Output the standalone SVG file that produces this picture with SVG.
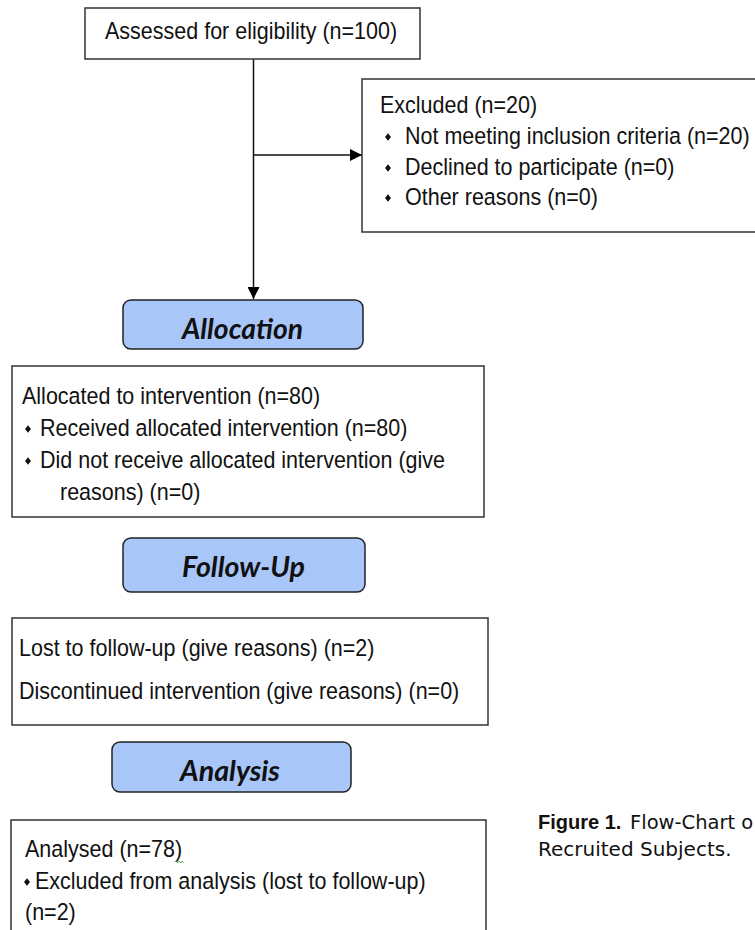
<svg xmlns="http://www.w3.org/2000/svg" xmlns:xlink="http://www.w3.org/1999/xlink" width="755" height="930" viewBox="0 0 755 930">
<style>
.box{fill:#fff;stroke:#333;stroke-width:1.5}
.hd{fill:#a9c6f9;stroke:#222;stroke-width:1.5}
.t{font-family:"Liberation Sans",Arial,sans-serif;font-size:21.5px;fill:#111}
.h{font-family:Lato,"Open Sans",sans-serif;font-weight:bold;font-style:italic;font-size:26px;fill:#111}
.cap{font-family:"DejaVu Sans",sans-serif;font-size:20px;fill:#111}
.capb{font-family:"Liberation Sans",Arial,sans-serif;font-weight:bold;font-size:20px;fill:#111}
.ln{stroke:#111;stroke-width:1.5;fill:none}
</style>
<defs>
<marker id="ah" markerUnits="userSpaceOnUse" markerWidth="12" markerHeight="12" refX="12" refY="6" orient="auto">
<path d="M0,0 L12,6 L0,12 Z" fill="#000"/>
</marker>
<path id="bul" d="M0,-3.8 L3,0 L0,3.8 L-3,0 Z" fill="#111"/>
</defs>
<rect width="755" height="930" fill="#fff"/>

<g id="connectors">
<line class="ln" x1="253.5" y1="59" x2="253.5" y2="299" marker-end="url(#ah)"/>
<line class="ln" x1="253.5" y1="155" x2="362" y2="155" marker-end="url(#ah)"/>
</g>

<g id="assessed">
<rect class="box" x="85" y="8" width="335" height="51"/>
<text class="t" transform="translate(105 39) scale(1 1.1)">Assessed for eligibility (n=100)</text>
</g>

<g id="excluded">
<rect class="box" x="362" y="79" width="400" height="153"/>
<text class="t" transform="translate(380 113) scale(1 1.1)">Excluded (n=20)</text>
<use xlink:href="#bul" x="388" y="137"/>
<text class="t" transform="translate(405 144) scale(1 1.1)">Not meeting inclusion criteria (n=20)</text>
<use xlink:href="#bul" x="388" y="168"/>
<text class="t" transform="translate(405 175) scale(1 1.1)">Declined to participate (n=0)</text>
<use xlink:href="#bul" x="388" y="198"/>
<text class="t" transform="translate(405 205) scale(1 1.1)">Other reasons (n=0)</text>
</g>

<g id="allocation">
<rect class="hd" x="123" y="300" width="240" height="49" rx="8"/>
<text class="h" transform="translate(182 339) scale(1 1.1)" textLength="121" lengthAdjust="spacingAndGlyphs">Allocation</text>
</g>

<g id="allocated">
<rect class="box" x="12" y="366" width="472" height="151"/>
<text class="t" transform="translate(22 404) scale(1 1.1)">Allocated to intervention (n=80)</text>
<use xlink:href="#bul" x="28" y="429"/>
<text class="t" transform="translate(40 436) scale(1 1.1)">Received allocated intervention (n=80)</text>
<use xlink:href="#bul" x="28" y="461"/>
<text class="t" transform="translate(40 468) scale(1 1.1)">Did not receive allocated intervention (give</text>
<text class="t" transform="translate(60 500) scale(1 1.1)">reasons) (n=0)</text>
</g>

<g id="followup">
<rect class="hd" x="123" y="538" width="242" height="54" rx="8"/>
<text class="h" transform="translate(182 577) scale(1 1.1)" textLength="123" lengthAdjust="spacingAndGlyphs">Follow-Up</text>
</g>

<g id="lost">
<rect class="box" x="12" y="618" width="476" height="107"/>
<text class="t" transform="translate(19 656) scale(1 1.1)">Lost to follow-up (give reasons) (n=2)</text>
<text class="t" transform="translate(19 699) scale(1 1.1)">Discontinued intervention (give reasons) (n=0)</text>
</g>

<g id="analysis">
<rect class="hd" x="112" y="742" width="239" height="50" rx="8"/>
<text class="h" transform="translate(180 781) scale(1 1.1)" textLength="100" lengthAdjust="spacingAndGlyphs">Analysis</text>
</g>

<g id="analysed">
<rect class="box" x="11" y="820" width="475" height="130"/>
<text class="t" transform="translate(25 857) scale(1 1.1)">Analysed (n=78)</text>
<path d="M176,861 l1.5,2 l1.5,-2 l1.5,2 l1.5,-2 l1.5,2" stroke="#3a3" stroke-width="0.8" fill="none"/>
<use xlink:href="#bul" x="27" y="882"/>
<text class="t" transform="translate(35 889) scale(1 1.1)">Excluded from analysis (lost to follow-up)</text>
<text class="t" transform="translate(25 920) scale(1 1.1)">(n=2)</text>
</g>

<g id="caption">
<text class="capb" x="538" y="829">Figure 1.</text>
<text class="cap" x="630" y="829" style="font-size:19.5px">Flow-Chart o</text>
<text class="cap" x="538" y="856">Recruited Subjects.</text>
</g>
</svg>
